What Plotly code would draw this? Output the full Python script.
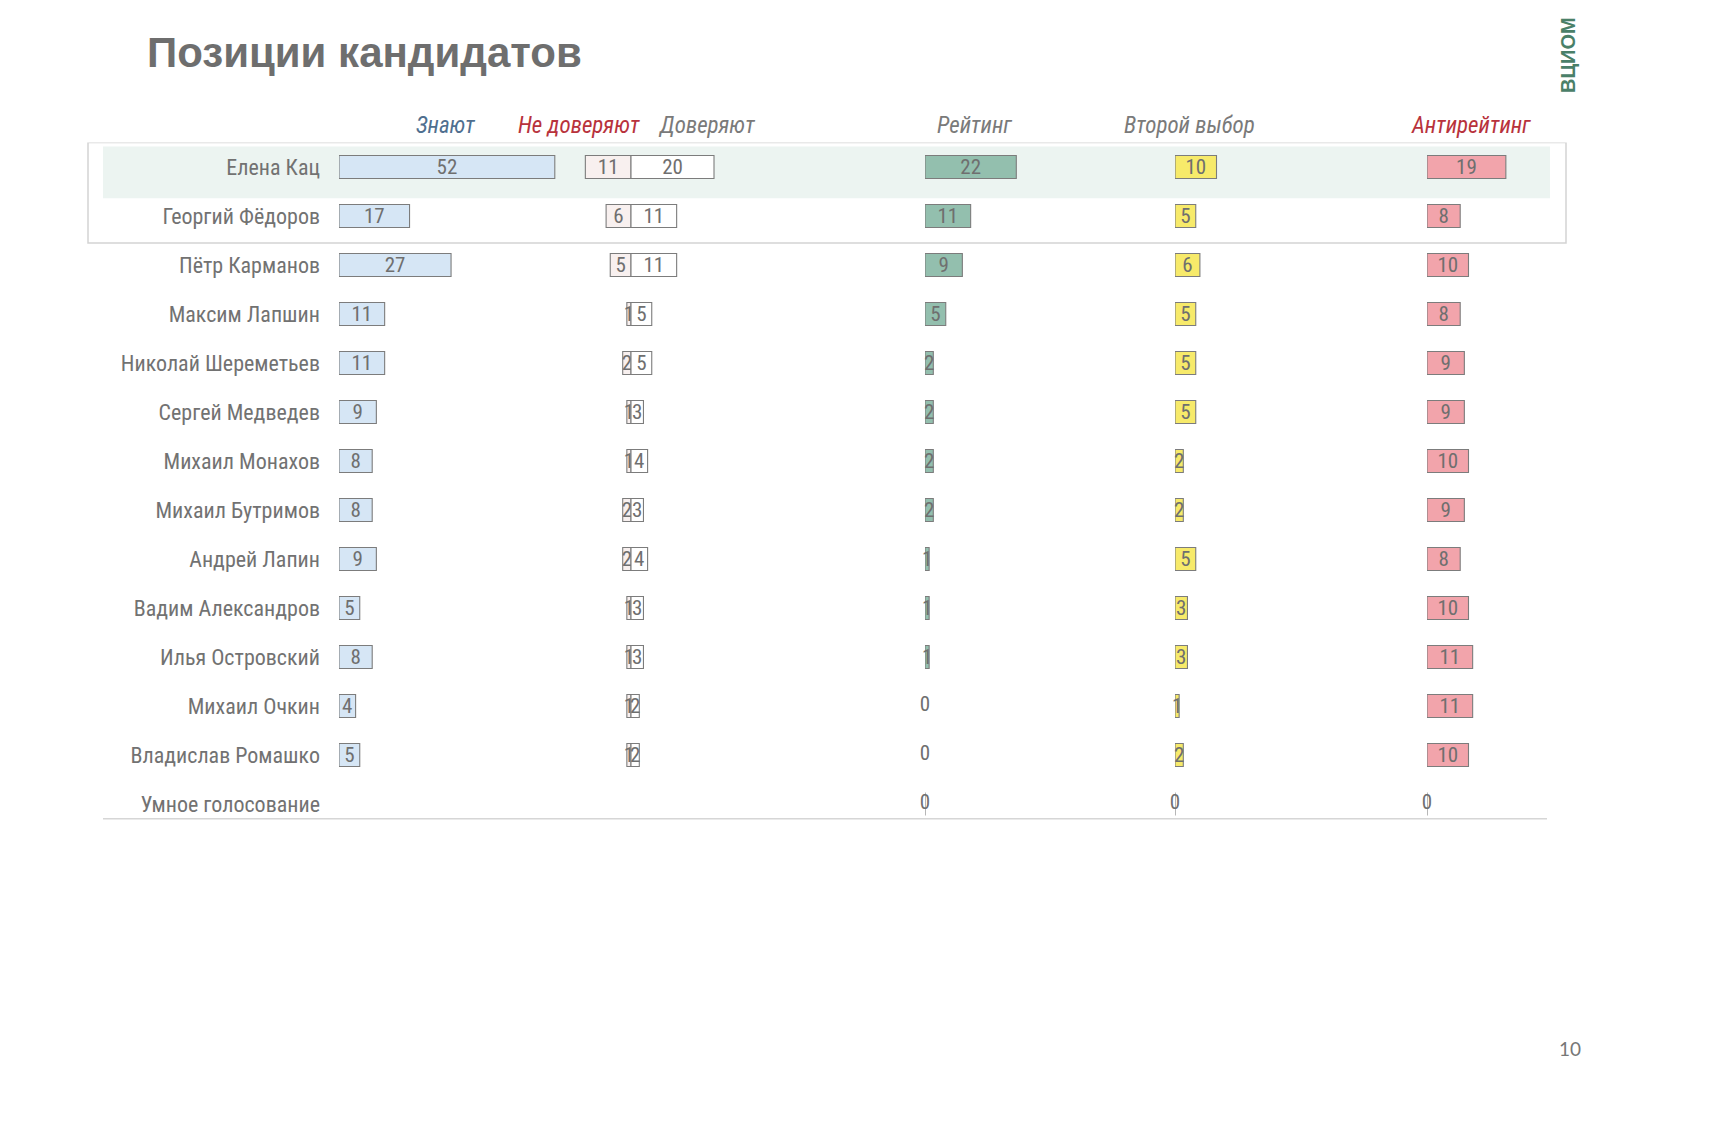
import plotly.graph_objects as go

W, H = 1732, 1124

names = ["Елена Кац", "Георгий Фёдоров", "Пётр Карманов", "Максим Лапшин",
         "Николай Шереметьев", "Сергей Медведев", "Михаил Монахов",
         "Михаил Бутримов", "Андрей Лапин", "Вадим Александров",
         "Илья Островский", "Михаил Очкин", "Владислав Ромашко",
         "Умное голосование"]
know = [52, 17, 27, 11, 11, 9, 8, 8, 9, 5, 8, 4, 5, None]
distrust = [11, 6, 5, 1, 2, 1, 1, 2, 2, 1, 1, 1, 1, None]
trust = [20, 11, 11, 5, 5, 3, 4, 3, 4, 3, 3, 2, 2, None]
rating = [22, 11, 9, 5, 2, 2, 2, 2, 1, 1, 1, 0, 0, 0]
second = [10, 5, 6, 5, 5, 5, 2, 2, 5, 3, 3, 1, 2, 0]
anti = [19, 8, 10, 8, 9, 9, 10, 9, 8, 10, 11, 11, 10, 0]

headers = ["Знают", "Не доверяют", "Доверяют", "Рейтинг", "Второй выбор", "Антирейтинг"]

FONT = "Liberation Sans Narrow, Roboto Condensed, Arial Narrow, Liberation Sans, sans-serif"
TXT = "#6f6f6f"
EDGE = "#7c7c7c"
PX_PER_UNIT = 4.15
NUM_SIZE = 21


def px(x):
    return x / W


def lbl(vals):
    return ["" if v is None else str(int(round(v))) for v in vals]


fig = go.Figure()

bar_w = 0.47
common = dict(orientation="h", width=bar_w, textposition="inside", textangle=0,
              insidetextanchor="middle", constraintext="none",
              textfont=dict(family=FONT, size=NUM_SIZE, color=TXT),
              hoverinfo="skip", showlegend=False, cliponaxis=False)

# Знают
fig.add_trace(go.Bar(y=names, x=know, text=lbl(know), xaxis="x", yaxis="y",
                     marker=dict(color="#d6e6f5", line=dict(color=EDGE, width=1.1)),
                     **common))
# Не доверяют (drawn leftwards from the divider)
fig.add_trace(go.Bar(y=names, x=distrust,
                     base=[None if v is None else -v for v in distrust],
                     text=lbl(distrust), xaxis="x2", yaxis="y",
                     marker=dict(color="#f8f0ef", line=dict(color=EDGE, width=1.1)),
                     **common))
# Доверяют
fig.add_trace(go.Bar(y=names, x=trust, text=lbl(trust), xaxis="x2", yaxis="y",
                     marker=dict(color="#ffffff", line=dict(color=EDGE, width=1.1)),
                     **common))

last = len(names) - 1
series = [(rating, "x3", "#93bfae"), (second, "x4", "#f7ea6a"), (anti, "x5", "#f2a4ab")]
for vals, ax, col in series:
    lw = [1.1 if (v != 0 or i == last) else 0 for i, v in enumerate(vals)]
    fig.add_trace(go.Bar(y=names, x=vals, text=lbl(vals), xaxis=ax, yaxis="y",
                         marker=dict(color=col, line=dict(color=EDGE, width=lw)),
                         **common))
    # zero values are written as text at the axis origin
    zy = [n for n, v in zip(names, vals) if v == 0]
    zx = [v for v in vals if v == 0]
    fig.add_trace(go.Scatter(y=zy, x=zx, text=[str(v) for v in zx], mode="text",
                             xaxis=ax, yaxis="y", textposition="middle center",
                             textfont=dict(family=FONT, size=NUM_SIZE, color=TXT),
                             hoverinfo="skip", showlegend=False, cliponaxis=False))


def xax(x0_px, x1_px, zero_px):
    r0 = -(zero_px - x0_px) / PX_PER_UNIT
    r1 = (x1_px - zero_px) / PX_PER_UNIT
    return dict(domain=[px(x0_px), px(x1_px)], range=[r0, r1], anchor="y",
                visible=False, fixedrange=True)


row_top, row_h, nrows = 142.5, 49.0, len(names)
y_top = 1 - row_top / H
y_bot = 1 - (row_top + row_h * nrows) / H

fig.update_layout(
    width=W, height=H,
    margin=dict(l=0, r=0, t=0, b=0),
    paper_bgcolor="#ffffff", plot_bgcolor="rgba(0,0,0,0)",
    barmode="overlay",
    xaxis=xax(339, 620, 339),
    xaxis2=xax(560, 740, 631),
    xaxis3=xax(925, 1150, 925),
    xaxis4=xax(1175, 1400, 1175),
    xaxis5=xax(1427, 1620, 1427),
    yaxis=dict(domain=[y_bot, y_top], type="category", categoryorder="array",
               categoryarray=names, range=[nrows - 0.5, -0.5], anchor="x",
               showgrid=False, zeroline=False, showline=False, ticks="",
               ticklabelstandoff=18, automargin=False,
               tickfont=dict(family=FONT, size=22, color="#727272"),
               fixedrange=True),
    showlegend=False,
)

# highlight band for the first row and frame around first two rows
fig.add_shape(type="rect", xref="paper", yref="y", x0=px(103), x1=px(1550),
              y0=-0.42, y1=0.64, fillcolor="#ecf4f1", line=dict(width=0), layer="below")
fig.add_shape(type="rect", xref="paper", yref="y", x0=px(88), x1=px(1566),
              y0=-0.5, y1=1.55, fillcolor="rgba(0,0,0,0)",
              line=dict(color="#d3d3d3", width=1.5), layer="below")
fig.add_shape(type="line", xref="paper", yref="y", x0=px(103), x1=px(1547),
              y0=13.3, y1=13.3, line=dict(color="#d6d6d6", width=1.5), layer="below")

# column headers
head_x = [445, 579, 706, 974, 1189, 1471]
head_col = ["#4f6f8f", "#b8323c", "#7a7a7a", "#7a7a7a", "#7a7a7a", "#b8323c"]
for t, xc, c in zip(headers, head_x, head_col):
    fig.add_annotation(x=px(xc), y=1 - 125 / H, xref="paper", yref="paper",
                       text=f"<i>{t}</i>", showarrow=False, xanchor="center",
                       yanchor="middle",
                       font=dict(family=FONT, size=23, color=c))

# title
fig.add_annotation(x=px(145), y=1 - 53 / H, xref="paper", yref="paper",
                   text="<b>Позиции кандидатов</b>", showarrow=False,
                   xanchor="left", yanchor="middle",
                   font=dict(family="Liberation Sans, Arial, sans-serif", size=42,
                             color="#6e6e6e"))
# logo text
fig.add_annotation(x=px(1568), y=1 - 55 / H, xref="paper", yref="paper",
                   text="<b>ВЦИОМ</b>", showarrow=False, textangle=-90,
                   xanchor="center", yanchor="middle",
                   font=dict(family="Liberation Sans, Arial, sans-serif", size=20,
                             color="#4a8068"))
# page number
fig.add_annotation(x=px(1570), y=1 - 1048 / H, xref="paper", yref="paper",
                   text="10", showarrow=False, xanchor="center", yanchor="middle",
                   font=dict(family="Lato, Liberation Sans, sans-serif", size=19,
                             color="#777777"))

fig.write_html("out.html")
